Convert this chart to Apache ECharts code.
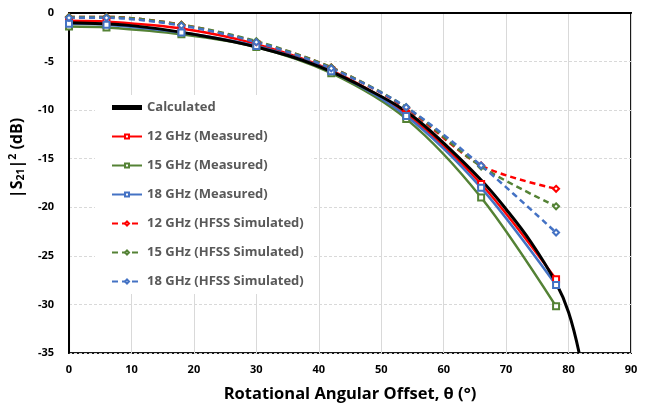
<!DOCTYPE html>
<html><head><meta charset="utf-8">
<script src="https://cdn.jsdelivr.net/npm/echarts@6/dist/echarts.min.js"></script>
<style>html,body{margin:0;padding:0;background:#fff}#c{width:648px;height:409px}</style>
</head><body><div id="c"></div>
<script>
const xMeas = [0, 6, 18, 30, 42, 54, 66, 78];
const calculated = [[0,-1.0],[10,-1.3],[20,-2.2],[30,-3.5],[40,-5.5],[50,-8.6],[55,-10.6],[60,-13.4],[66,-17.2],[70,-20.2],[74,-23.6],[78,-27.8],[80,-30.8],[81.7,-35]];
const meas12 = [-0.8, -0.9, -1.6, -3.2, -5.9, -10.4, -17.6, -27.4];
const meas15 = [-1.4, -1.5, -2.2, -3.5, -6.2, -10.9, -19.0, -30.2];
const meas18 = [-1.1, -1.2, -2.0, -3.4, -6.0, -10.6, -18.0, -28.0];
const sim12 = [-0.4, -0.4, -1.2, -3.0, -5.6, -9.8, -15.7, -18.1];
const sim15 = [-0.4, -0.4, -1.2, -2.9, -5.6, -9.7, -15.8, -19.9];
const sim18 = [-0.5, -0.5, -1.3, -3.0, -5.7, -9.7, -15.7, -22.6];
const names = ['Calculated','12 GHz (Measured)','15 GHz (Measured)','18 GHz (Measured)','12 GHz (HFSS Simulated)','15 GHz (HFSS Simulated)','18 GHz (HFSS Simulated)'];
const xTicks = [0,10,20,30,40,50,60,70,80,90];
const yTicks = [0,-5,-10,-15,-20,-25,-30,-35];

const RED='#FF0000', GREEN='#548235', BLUE='#4472C4';
const pair = v => xMeas.map((x,i)=>[x,v[i]]);
function meas(name, data, color){
  return {name, type:'line', data:pair(data), smooth:0.3, symbol:'emptyRect', symbolSize:6,
    lineStyle:{color, width:2.5}, itemStyle:{color, borderColor:color, borderWidth:1}};
}
function sim(name, data, color){
  return {name, type:'line', data:pair(data), smooth:0.3, symbol:'emptyDiamond', symbolSize:6,
    lineStyle:{color, width:2.5, type:[6,4]}, itemStyle:{color, borderColor:color, borderWidth:1}};
}
const legendData = names.map((n,i)=> i===0 ? {name:n, icon:'rect', itemStyle:{color:'#000'}} : {name:n});
const chart = echarts.init(document.getElementById('c'));
chart.setOption({
  animation:false,
  grid:{left:68, right:17, top:13, bottom:56, show:true, borderColor:'#1a1a1a', borderWidth:2, backgroundColor:'transparent'},
  xAxis:{type:'value', min:xTicks[0], max:xTicks[xTicks.length-1], interval:10,
    name:'Rotational Angular Offset, θ (°)', nameLocation:'middle', nameGap:33,
    nameTextStyle:{fontFamily:'Open Sans', fontWeight:'bold', fontSize:16.5, color:'#000'},
    axisLine:{show:true, lineStyle:{color:'#000', width:2}}, axisTick:{show:false},
    axisLabel:{fontFamily:'Open Sans', fontWeight:'bold', fontSize:11, color:'#000', margin:11},
    splitLine:{show:true, lineStyle:{color:'#d9d9d9', width:1}}},
  yAxis:{type:'value', min:yTicks[yTicks.length-1], max:yTicks[0], interval:5,
    name:'|S{sub|21}|{sup|2} (dB)', nameLocation:'middle', nameGap:36,
    nameTextStyle:{fontFamily:'Open Sans', fontWeight:'bold', fontSize:16, color:'#000', padding:[0,0,0,50],
      rich:{sub:{fontFamily:'Open Sans', fontWeight:'bold', fontSize:10.5, verticalAlign:'bottom', padding:[8,0,0,0], color:'#000'},
            sup:{fontFamily:'Open Sans', fontWeight:'bold', fontSize:10.5, verticalAlign:'top', padding:[0,0,8,0], color:'#000'}}},
    axisLine:{show:true, onZero:false, lineStyle:{color:'#000', width:2}}, axisTick:{show:false},
    axisLabel:{fontFamily:'Open Sans', fontWeight:'bold', fontSize:11, color:'#000', margin:15},
    splitLine:{show:true, lineStyle:{color:'#d9d9d9', width:1, type:[3,2]}}},
  legend:{orient:'vertical', left:95, top:95, width:228, backgroundColor:'#fff',
    padding:[6,8,6,16], itemWidth:30, itemHeight:5, itemGap:16, data:legendData,
    textStyle:{fontFamily:'Open Sans', fontWeight:'bold', fontSize:13, color:'#595959'}},
  series:[
    meas(names[1], meas12, RED),
    meas(names[2], meas15, GREEN),
    meas(names[3], meas18, BLUE),
    sim(names[4], sim12, RED),
    sim(names[5], sim15, GREEN),
    sim(names[6], sim18, BLUE),
    {name:names[0], type:'line', data:calculated, smooth:0.4, symbol:'none', showSymbol:false,
      lineStyle:{color:'#000', width:3}, itemStyle:{color:'#000'}}
  ]
});
</script></body></html>
